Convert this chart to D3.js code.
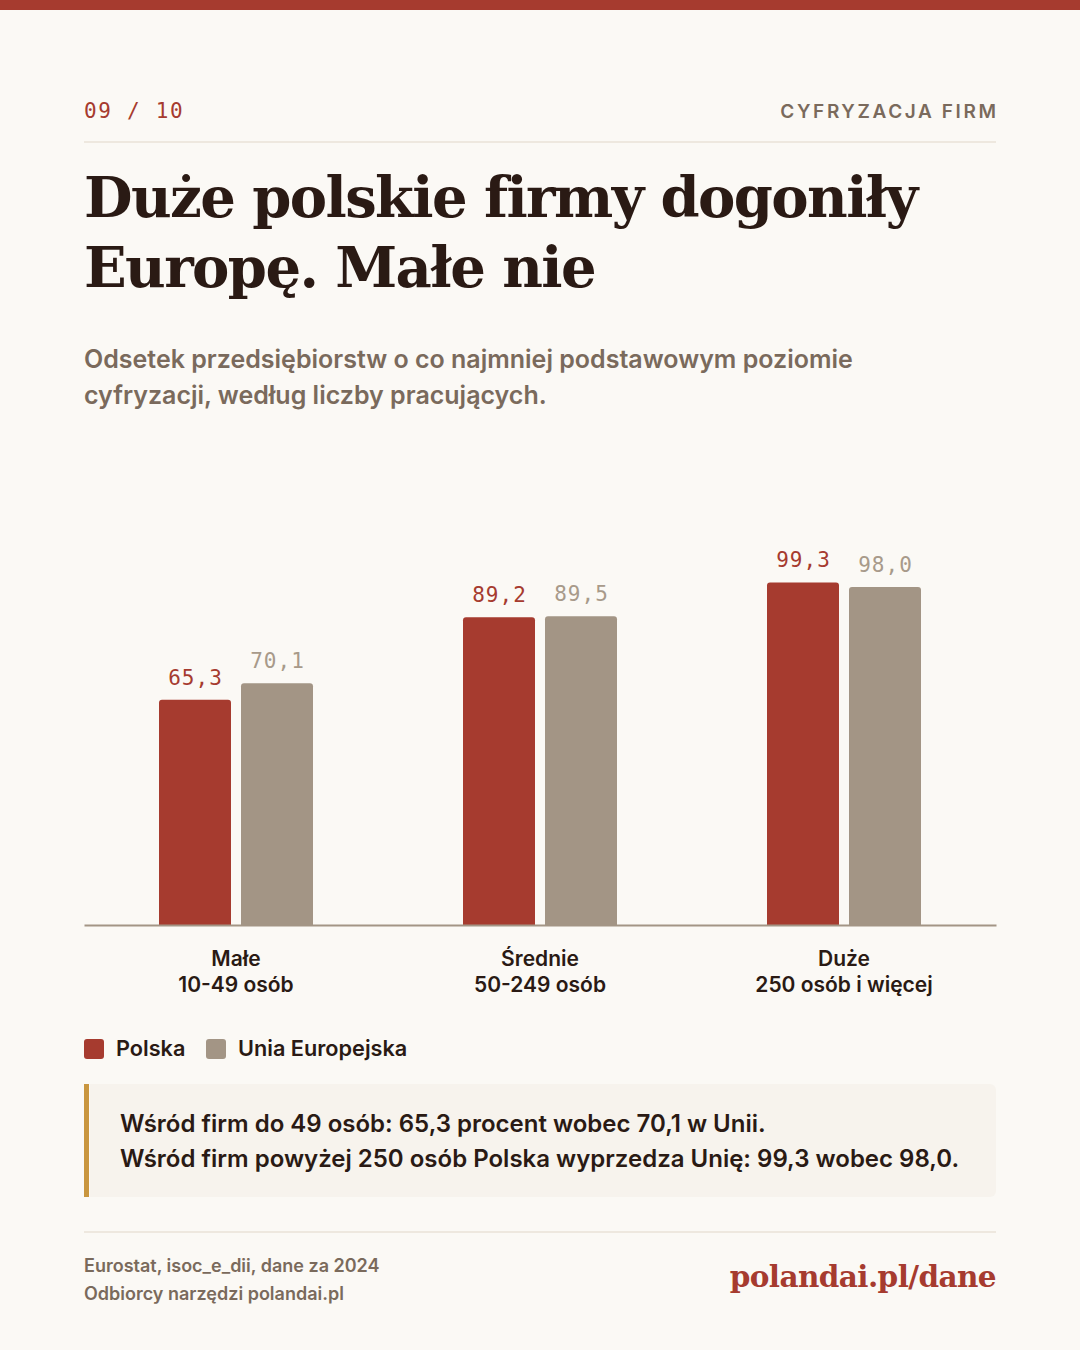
<!DOCTYPE html>
<html><head><meta charset="utf-8">
<script src="https://cdn.jsdelivr.net/npm/d3@7"></script>
<style>
html,body{margin:0;padding:0;background:#fbf9f5;}
svg{display:block;}
</style></head>
<body>
<script>
const categories = ["Małe", "Średnie", "Duże"];
const categorySub = ["10-49 osób", "50-249 osób", "250 osób i więcej"];
const seriesNames = ["Polska", "Unia Europejska"];
const polskaValues = [65.3, 89.2, 99.3];
const euValues = [70.1, 89.5, 98.0];
const colors = ["#a63b2f", "#a39585"];
const labelColors = ["#a63b2f", "#a89a8a"];

const W = 1080, H = 1350;
const svg = d3.select("body").append("svg").attr("width", W).attr("height", H);
svg.append("rect").attr("width", W).attr("height", H).attr("fill", "#fbf9f5");
svg.append("rect").attr("width", W).attr("height", 10).attr("fill", "#a63b2f");

const sans = "Inter, 'Noto Sans', sans-serif";
const mono = "'DejaVu Sans Mono', 'Liberation Mono', monospace";
const serif = "'DejaVu Serif', 'Liberation Serif', serif";
const dark = "#2a1a14", muted = "#7a6a5c";

svg.append("text").attr("x", 84).attr("y", 118).attr("font-family", mono).attr("font-size", 21)
  .attr("letter-spacing", 1.7).attr("fill", "#a63b2f").text("09 / 10");
svg.append("text").attr("x", 998.6).attr("y", 118).attr("text-anchor", "end").attr("font-family", sans)
  .attr("font-size", 19).attr("font-weight", 600).attr("letter-spacing", 2.6).attr("fill", muted).text("CYFRYZACJA FIRM");
svg.append("line").attr("x1", 84).attr("x2", 996).attr("y1", 142).attr("y2", 142).attr("stroke", "#eee8df").attr("stroke-width", 2);

const title = svg.append("text").attr("font-family", serif).attr("font-weight", 700).attr("font-size", 56)
  .attr("fill", dark).attr("letter-spacing", -1.6);
title.append("tspan").attr("x", 84).attr("y", 217).text("Duże polskie firmy dogoniły");
title.append("tspan").attr("x", 84).attr("y", 287).text("Europę. Małe nie");

const sub = svg.append("text").attr("font-family", sans).attr("font-weight", 600).attr("font-size", 25).attr("fill", muted);
sub.append("tspan").attr("x", 84).attr("y", 368).text("Odsetek przedsiębiorstw o co najmniej podstawowym poziomie");
sub.append("tspan").attr("x", 84).attr("y", 404).text("cyfryzacji, według liczby pracujących.");

// Chart
const x0 = d3.scaleBand().domain(categories).range([84, 996]).padding(0);
const barW = 72, gap = 10;
const x1 = d3.scaleOrdinal().domain(seriesNames).range([-(barW + gap / 2), gap / 2]);
const y = d3.scaleLinear().domain([0, 100]).range([925, 580]);

const data = categories.map((c, i) => ({ cat: c, vals: [
  { s: seriesNames[0], v: polskaValues[i], k: 0 },
  { s: seriesNames[1], v: euValues[i], k: 1 }] }));

function topRounded(x, yTop, w, h, r) {
  return `M${x},${yTop + h}V${yTop + r}Q${x},${yTop} ${x + r},${yTop}H${x + w - r}Q${x + w},${yTop} ${x + w},${yTop + r}V${yTop + h}Z`;
}

const g = svg.append("g");
const groups = g.selectAll("g.cat").data(data).join("g").attr("class", "cat")
  .attr("transform", d => `translate(${x0(d.cat) + x0.bandwidth() / 2},0)`);
groups.selectAll("path").data(d => d.vals).join("path")
  .attr("d", d => topRounded(x1(d.s), y(d.v), barW, y(0) - y(d.v), 3))
  .attr("fill", d => colors[d.k]);
groups.selectAll("text.val").data(d => d.vals).join("text").attr("class", "val")
  .attr("x", d => x1(d.s) + barW / 2 + 0.5).attr("y", d => y(d.v) - 15)
  .attr("text-anchor", "middle").attr("font-family", mono).attr("font-size", 21).attr("letter-spacing", 1)
  .attr("fill", d => labelColors[d.k])
  .text(d => d.v.toFixed(1).replace(".", ","));

// axis
const axis = d3.axisBottom(x0).tickSize(0).tickFormat("");
const ax = svg.append("g").attr("transform", `translate(0,${y(0)})`).call(axis);
ax.select(".domain").attr("stroke", "#a39585").attr("stroke-width", 2);
ax.selectAll(".tick").each(function (d, i) {
  const t = d3.select(this).append("text").attr("text-anchor", "middle").attr("font-family", sans)
    .attr("font-size", 21).attr("font-weight", 600).attr("fill", dark);
  t.append("tspan").attr("x", 0).attr("y", 41).text(categories[i]);
  t.append("tspan").attr("x", 0).attr("y", 67).text(categorySub[i]);
});

// legend
const legX = [84, 206];
seriesNames.forEach((s, i) => {
  svg.append("rect").attr("x", legX[i]).attr("y", 1039).attr("width", 20).attr("height", 20).attr("rx", 3)
    .attr("fill", colors[i]);
  svg.append("text").attr("x", legX[i] + 32).attr("y", 1056).attr("font-family", sans).attr("font-size", 21.7)
    .attr("font-weight", 600).attr("fill", dark).text(s);
});

// callout
svg.append("rect").attr("x", 84).attr("y", 1084).attr("width", 912).attr("height", 113).attr("rx", 6).attr("fill", "#f7f3ed");
svg.append("rect").attr("x", 84).attr("y", 1084).attr("width", 6).attr("height", 113).attr("fill", "#fbf9f5");
svg.append("rect").attr("x", 84).attr("y", 1084).attr("width", 5).attr("height", 113).attr("fill", "#c9963f");
const co = svg.append("text").attr("font-family", sans).attr("font-size", 24).attr("font-weight", 600).attr("fill", dark);
co.append("tspan").attr("x", 120).attr("y", 1132).text("Wśród firm do 49 osób: 65,3 procent wobec 70,1 w Unii.");
co.append("tspan").attr("x", 120).attr("y", 1167).text("Wśród firm powyżej 250 osób Polska wyprzedza Unię: 99,3 wobec 98,0.");

// footer
svg.append("line").attr("x1", 84).attr("x2", 996).attr("y1", 1232).attr("y2", 1232).attr("stroke", "#eee8df").attr("stroke-width", 2);
const ft = svg.append("text").attr("font-family", sans).attr("font-size", 18).attr("font-weight", 600).attr("fill", muted);
ft.append("tspan").attr("x", 84).attr("y", 1272).text("Eurostat, isoc_e_dii, dane za 2024");
ft.append("tspan").attr("x", 84).attr("y", 1300).text("Odbiorcy narzędzi polandai.pl");
svg.append("text").attr("x", 996).attr("y", 1287).attr("text-anchor", "end").attr("font-family", serif)
  .attr("font-weight", 700).attr("font-size", 29.5).attr("letter-spacing", -0.6).attr("fill", "#a63b2f").text("polandai.pl/dane");
</script>
</body></html>
